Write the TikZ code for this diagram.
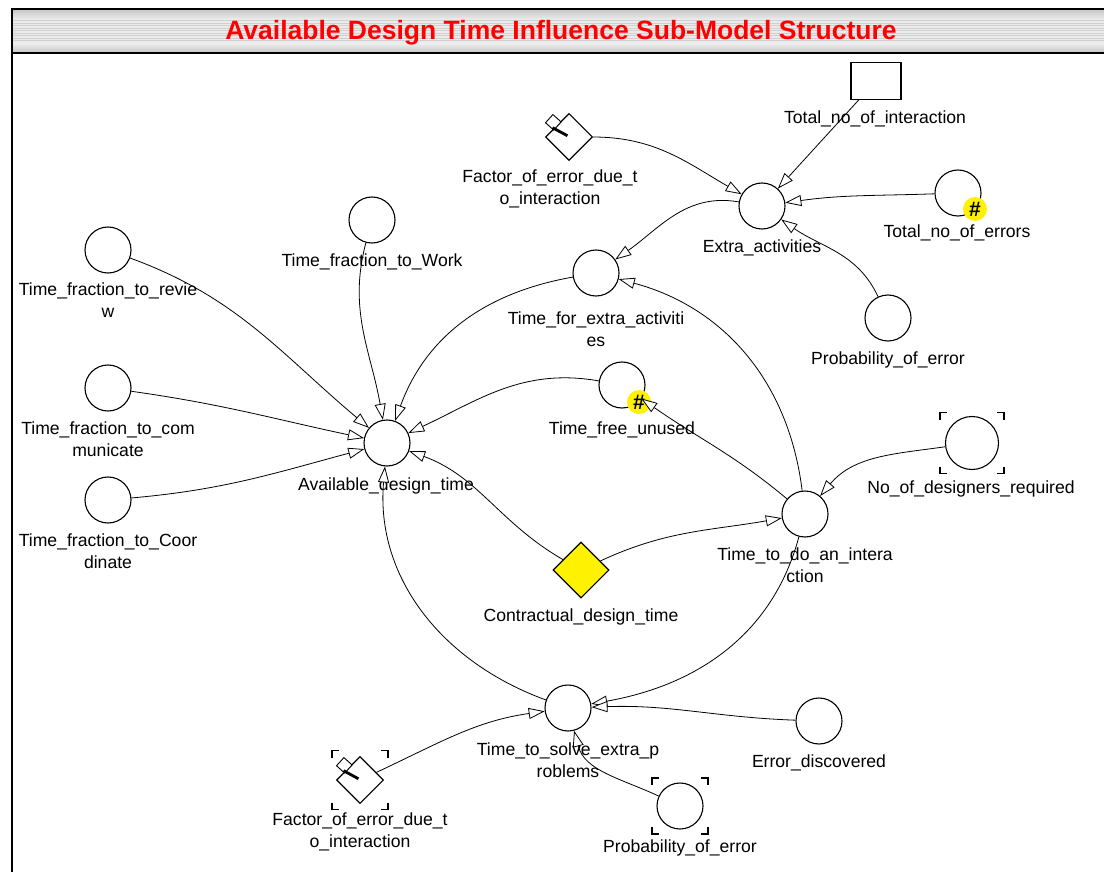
\documentclass[tikz,border=0pt]{standalone}
\usepackage{fontspec}
\setmainfont{Liberation Sans}
\usetikzlibrary{arrows.meta,shapes.geometric}

\definecolor{bandmid}{HTML}{EBEBEB}
\definecolor{bandline}{HTML}{D0D0D0}
\definecolor{bandedge}{HTML}{C4C4C4}

% corner marks around a node centre: #1 node, #2 half width, #3 half height
\newcommand\cornermarks[3]{%
  \draw[cornerm] ([shift={(-#2,#3-7)}]#1.center) -- ++(0,7) -- ++(7,0);
  \draw[cornerm] ([shift={(#2-7,#3)}]#1.center) -- ++(7,0) -- ++(0,-7);
  \draw[cornerm] ([shift={(-#2,-#3+7)}]#1.center) -- ++(0,-7) -- ++(7,0);
  \draw[cornerm] ([shift={(#2-7,-#3)}]#1.center) -- ++(7,0) -- ++(0,7);
}
% small handle mark on the upper-left edge of a converter diamond
\newcommand\handlemark[1]{%
  \begin{scope}[shift={(#1.north west)},rotate=48]
    \draw[line width=0.9pt,fill=white] (-6,-1) rectangle (5,10);
    \draw[line width=2.8pt] (-5,1.5) -- (-1,-15);
  \end{scope}
}

\begin{document}
\begin{tikzpicture}[x=1pt,y=1pt,
  aux/.style={circle,draw,line width=1.1pt,minimum size=46pt,inner sep=0pt,fill=white},
  conv/.style={diamond,draw,line width=1.1pt,minimum width=47pt,minimum height=47pt,inner sep=0pt,aspect=1,fill=white},
  stock/.style={rectangle,draw,line width=1.1pt,minimum width=50pt,minimum height=37pt,inner sep=0pt,fill=white},
  lbl/.style={font=\fontsize{17.6}{22}\selectfont,align=center,inner sep=0pt},
  badge/.style={circle,fill=yellow,inner sep=0pt,minimum size=24pt,font=\fontsize{21}{21}\selectfont\bfseries},
  cornerm/.style={line width=1.3pt},
  link/.style={draw,line width=0.8pt,-{Triangle[length=16pt,width=11pt,fill=white,line width=0.8pt]}}]

\useasboundingbox (0,0) rectangle (1104,-872);
\fill[white] (0,0) rectangle (1104,-872);

% title band
\fill[bandmid] (11,-9) rectangle (1104,-53);
\shade[top color=bandedge,bottom color=bandmid] (11,-9) rectangle (1104,-19);
\shade[top color=bandmid,bottom color=bandedge] (11,-44) rectangle (1104,-53);
\foreach \yy in {21,23.5,26,28.5,31,33.5,36,38.5,41}
  \draw[bandline,line width=1pt] (11,-\yy) -- (1104,-\yy);
\draw[line width=2pt] (11,-9) -- (1104,-9);
\draw[line width=2.6pt] (11,-53) -- (1104,-53);
\draw[line width=2pt] (11.5,-8) -- (11.5,-872);
\node[anchor=base,inner sep=0pt,text=red,font=\fontsize{26.5}{30}\selectfont\bfseries] (title) at (561,-40)
  {Available Design Time Influence Sub-Model Structure};

% model elements
\node[stock] (tni) at (876,-81) {};
\node[conv] (fac1) at (569,-137) {};
\node[aux] (extra) at (762,-206) {};
\node[aux] (errors) at (958,-193) {};
\node[aux] (work) at (372,-220) {};
\node[aux] (review) at (108,-250) {};
\node[aux] (tfea) at (596,-273) {};
\node[aux] (prob1) at (888,-318) {};
\node[aux] (comm) at (108,-388) {};
\node[aux] (tfu) at (622,-385) {};
\node[aux,minimum size=53pt] (des) at (972,-443) {};
\node[aux] (avail) at (387,-443) {};
\node[aux] (coord) at (108,-500) {};
\node[aux] (tdi) at (805,-514) {};
\node[conv,fill=yellow,minimum width=56pt,minimum height=56pt] (contr) at (581,-570) {};
\node[aux] (tsep) at (568,-708) {};
\node[aux] (errd) at (819,-721) {};
\node[conv] (fac2) at (360,-780) {};
\node[aux] (prob2) at (680,-806) {};

\handlemark{fac1}
\handlemark{fac2}
\cornermarks{des}{32}{30.5}
\cornermarks{fac2}{28}{29.5}
\cornermarks{prob2}{28}{28}

\node[badge] (errors-b) at ([shift={(17,-16)}]errors.center) {\#};
\node[badge] (tfu-b) at ([shift={(17,-17)}]tfu.center) {\#};

% labels
\node[lbl] (tni-l) at (875,-119) {Total\_no\_of\_interaction};
\node[lbl] (fac1-l) at (550,-189) {Factor\_of\_error\_due\_t\\o\_interaction};
\node[lbl] (extra-l) at (762,-248) {Extra\_activities};
\node[lbl] (errors-l) at (957,-233) {Total\_no\_of\_errors};
\node[lbl] (work-l) at (372,-262) {Time\_fraction\_to\_Work};
\node[lbl] (review-l) at (108,-300) {Time\_fraction\_to\_revie\\w};
\node[lbl] (tfea-l) at (596,-329) {Time\_for\_extra\_activiti\\es};
\node[lbl] (prob1-l) at (888,-360) {Probability\_of\_error};
\node[lbl] (comm-l) at (108,-439) {Time\_fraction\_to\_com\\municate};
\node[lbl] (tfu-l) at (622,-430) {Time\_free\_unused};
\node[lbl] (des-l) at (971,-489) {No\_of\_designers\_required};
\node[lbl] (avail-l) at (386,-486) {Available\_design\_time};
\node[lbl] (coord-l) at (108,-551) {Time\_fraction\_to\_Coor\\dinate};
\node[lbl] (tdi-l) at (805,-565) {Time\_to\_do\_an\_intera\\ction};
\node[lbl] (contr-l) at (581,-617) {Contractual\_design\_time};
\node[lbl] (tsep-l) at (568,-760) {Time\_to\_solve\_extra\_p\\roblems};
\node[lbl] (errd-l) at (819,-763) {Error\_discovered};
\node[lbl] (fac2-l) at (360,-832) {Factor\_of\_error\_due\_t\\o\_interaction};
\node[lbl] (prob2-l) at (680,-848) {Probability\_of\_error};

% connectors
\draw[link] (tni) -- (extra);
\draw[link] (fac1.east) to[out=0,in=150] (extra);
\draw[link] (errors) to[out=182,in=8] (extra);
\draw[link] (prob1) to[out=115,in=-35] (extra);
\draw[link] (extra) to[out=170,in=35] (tfea);
\draw[link] (tdi) to[out=97,in=-15] (tfea);
\draw[link] (tdi) to[out=140,in=-35] (tfu);
\draw[link] (tfea) to[out=190,in=70] (avail);
\draw[link] (tfu) to[out=170,in=25] (avail);
\draw[link] (work) to[out=-105,in=100] (avail);
\draw[link] (review) to[out=-20,in=140] (avail);
\draw[link] (comm) to[out=-8,in=168] (avail);
\draw[link] (coord) to[out=5,in=-165] (avail);
\draw[link] (contr) to[out=150,in=-20] (avail);
\draw[link] (contr) to[out=25,in=190] (tdi);
\draw[link] (des) to[out=188,in=50] (tdi);
\draw[link] (tsep) to[out=160,in=-95] (avail);
\draw[link] (tdi) to[out=-105,in=10] (tsep);
\draw[link] (errd) to[out=178,in=2] (tsep);
\draw[link] (prob2) to[out=155,in=-75] (tsep);
\draw[link] (fac2) to[out=25,in=188] (tsep);
\end{tikzpicture}
\end{document}
